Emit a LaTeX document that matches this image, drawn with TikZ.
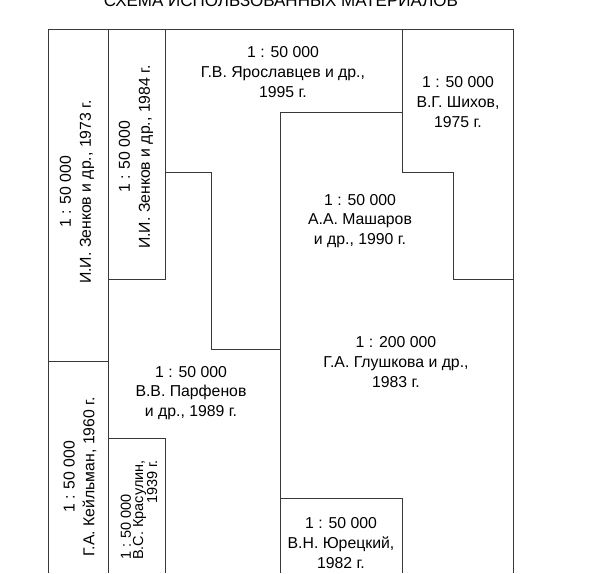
\documentclass[tikz,border=0pt]{standalone}
\usepackage{fontspec}
\setmainfont{Liberation Sans}
\begin{document}
\begin{tikzpicture}[x=1pt,y=-1pt,
  edge/.style={line width=0.8pt, draw=black!78},
  lbl/.style={align=center, font=\fontsize{15.8}{19.8}\selectfont, inner sep=0pt},
  vlbl/.style={lbl, rotate=90},
  small/.style={align=center, font=\fontsize{14.5}{12.3}\selectfont, inner sep=0pt, rotate=90},
  ttl/.style={font=\fontsize{17}{20}\selectfont, inner sep=0pt, anchor=base}]
\useasboundingbox (0,0) rectangle (605,573);
\begin{scope}
\clip (0,0) rectangle (605,573);
\node[ttl] (title) at (281,6) {СХЕМА ИСПОЛЬЗОВАННЫХ МАТЕРИАЛОВ};
\end{scope}
% outer frame
\draw[edge] (48,573) -- (48,29) -- (513,29) -- (513,573);
% left columns
\draw[edge] (108,29) -- (108,573);
\draw[edge] (48,361) -- (108,361);
\draw[edge] (165,29) -- (165,279) -- (108,279);
\draw[edge] (108,438) -- (165,438) -- (165,573);
% Parfenov / Yaroslavtsev boundary
\draw[edge] (165,172) -- (211,172) -- (211,349) -- (280,349);
\draw[edge] (280,573) -- (280,112) -- (402,112);
% Shikhov / Masharov
\draw[edge] (402,29) -- (402,172) -- (453,172) -- (453,279) -- (513,279);
% Yuretsky
\draw[edge] (280,498) -- (402,498) -- (402,573);
% labels
\node[vlbl] (z1973) at (77,192) {1 : 50 000\\И.И. Зенков и др., 1973 г.};
\node[vlbl] (z1984) at (136,157) {1 : 50 000\\И.И. Зенков и др., 1984 г.};
\node[vlbl] (keil) at (80,477) {1 : 50 000\\Г.А. Кейльман, 1960 г.};
\node[small] (kras) at (139,510) {1 : 50 000\hspace*{34pt}\\В.С. Красулин,\\\hspace*{56pt}1939 г.};
\node[lbl] (yar) at (283,72) {1 : 50 000\\Г.В. Ярославцев и др.,\\1995 г.};
\node[lbl] (shi) at (458,102) {1 : 50 000\\В.Г. Шихов,\\1975 г.};
\node[lbl] (mash) at (360,221) {1 : 50 000\\А.А. Машаров\\и др., 1990 г.};
\node[lbl] (glu) at (396,362) {1 : 200 000\\Г.А. Глушкова и др.,\\1983 г.};
\node[lbl] (par) at (191,393) {1 : 50 000\\В.В. Парфенов\\и др., 1989 г.};
\node[lbl] (yur) at (341,543) {1 : 50 000\\В.Н. Юрецкий,\\1982 г.};
\end{tikzpicture}
\end{document}
